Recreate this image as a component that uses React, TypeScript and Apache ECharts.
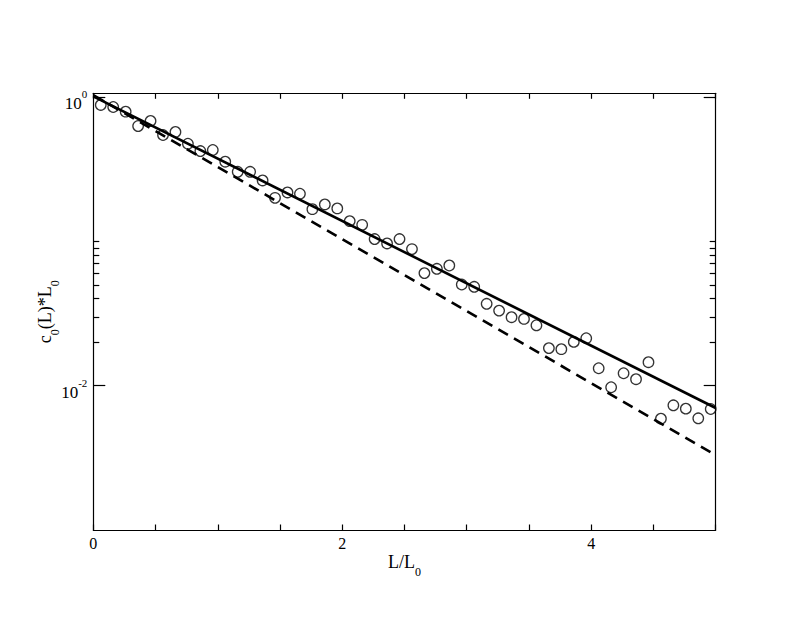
import React, { useEffect, useRef } from "react";
import * as echarts from "echarts";

// ---- data ----
const X_POINTS = [
  0.06, 0.16, 0.26, 0.36, 0.46, 0.56, 0.66, 0.76, 0.86, 0.96,
  1.06, 1.16, 1.26, 1.36, 1.46, 1.56, 1.66, 1.76, 1.86, 1.96,
  2.06, 2.16, 2.26, 2.36, 2.46, 2.56, 2.66, 2.76, 2.86, 2.96,
  3.06, 3.16, 3.26, 3.36, 3.46, 3.56, 3.66, 3.76, 3.86, 3.96,
  4.06, 4.16, 4.26, 4.36, 4.46, 4.56, 4.66, 4.76, 4.86, 4.96,
];
const Y_POINTS = [
  0.88, 0.852, 0.791, 0.629, 0.682, 0.545, 0.572, 0.474, 0.422, 0.429,
  0.356, 0.303, 0.303, 0.264, 0.2, 0.218, 0.2135, 0.167, 0.18, 0.169,
  0.138, 0.13, 0.1036, 0.0966, 0.1036, 0.0883, 0.0602, 0.0645, 0.068, 0.0502,
  0.0484, 0.0369, 0.0331, 0.0298, 0.029, 0.0262, 0.0182, 0.0179, 0.0201, 0.0213,
  0.0132, 0.00975, 0.01219, 0.01108, 0.01454, 0.0059, 0.00731, 0.00693, 0.00594, 0.00689,
];
const SOLID_X = [0, 5];
const SOLID_Y = [1.01, 0.007];
const DASHED_X = [0, 5];
const DASHED_Y = [1.03, 0.0033];

const X_MIN = 0;
const X_MAX = 5;
const X_TICK_STEP = 0.5;
const X_TICK_LABELS = [0, 2, 4];
const Y_MIN = 0.001;
const Y_MAX = 1.06;
const Y_TICK_LABELS = [1, 0.01];
const Y_MINOR_TICKS = [0.02, 0.03, 0.04, 0.05, 0.06, 0.07, 0.08, 0.09, 0.1];

const FONT = "Liberation Serif";

export default function App() {
  const ref = useRef<HTMLDivElement>(null);

  useEffect(() => {
    if (!ref.current) return;
    const chart = echarts.init(ref.current, undefined, { renderer: "svg" });

    const line = { show: true, lineStyle: { color: "#000", width: 1.2 } };
    const tickStyle = { color: "#000", width: 1.2 };

    const subRich = {
      main: { fontFamily: FONT, fontSize: 18, color: "#000", lineHeight: 20, verticalAlign: "top" },
      sub: { fontFamily: FONT, fontSize: 12, color: "#000", lineHeight: 12, padding: [13, 0, 0, 0], verticalAlign: "top" },
    };

    const yLabel = {
      customValues: Y_TICK_LABELS,
      margin: 6,
      formatter: (v: number) => "{b|10}{s|" + Math.round(Math.log10(v)) + "}",
      rich: {
        b: { fontFamily: FONT, fontSize: 17, color: "#000", lineHeight: 17, padding: [7, 0, 0, 0], verticalAlign: "top" },
        s: { fontFamily: FONT, fontSize: 11, color: "#000", lineHeight: 11, verticalAlign: "top" },
      },
    };

    const yBase = {
      type: "log",
      logBase: 10,
      min: Y_MIN,
      max: Y_MAX,
      splitLine: { show: false },
      minorTick: { show: false },
    };

    const xBase = {
      type: "value",
      min: X_MIN,
      max: X_MAX,
      interval: X_TICK_STEP,
      splitLine: { show: false },
      axisLine: line,
      axisTick: { show: true, inside: true, length: 5.5, lineStyle: tickStyle },
    };

    chart.setOption({
      animation: false,
      backgroundColor: "#fff",
      grid: { left: 93.3, right: 90.3, top: 93.3, bottom: 93, containLabel: false },
      xAxis: [
        {
          ...xBase,
          position: "bottom",
          axisLabel: {
            customValues: X_TICK_LABELS,
            formatter: (v: number) => String(v),
            fontFamily: FONT,
            fontSize: 16,
            color: "#000",
            margin: 5,
          },
          name: "{main|L/L}{sub|0}",
          nameLocation: "middle",
          nameGap: 23,
          nameMoveOverlap: false,
          nameTextStyle: { color: "#000", fontFamily: FONT, rich: subRich },
        },
        { ...xBase, position: "top", axisLabel: { show: false } },
      ],
      yAxis: [
        {
          ...yBase,
          position: "left",
          axisLine: line,
          axisTick: { show: true, inside: true, length: 12, customValues: Y_TICK_LABELS, lineStyle: tickStyle },
          axisLabel: yLabel,
          name: "{main|c}{sub|0}{main|(L)*L}{sub|0}",
          nameLocation: "middle",
          nameGap: 37,
          nameMoveOverlap: false,
          nameTextStyle: { color: "#000", fontFamily: FONT, rich: subRich },
        },
        {
          ...yBase,
          position: "left",
          axisLine: { show: false },
          axisTick: { show: true, inside: true, length: 6, customValues: Y_MINOR_TICKS, lineStyle: tickStyle },
          axisLabel: { show: false },
        },
        {
          ...yBase,
          position: "right",
          axisLine: line,
          axisTick: { show: true, inside: true, length: 12, customValues: Y_TICK_LABELS, lineStyle: tickStyle },
          axisLabel: { show: false },
        },
        {
          ...yBase,
          position: "right",
          axisLine: { show: false },
          axisTick: { show: true, inside: true, length: 6, customValues: Y_MINOR_TICKS, lineStyle: tickStyle },
          axisLabel: { show: false },
        },
      ],
      series: [
        {
          type: "line",
          xAxisIndex: 0,
          yAxisIndex: 0,
          data: SOLID_X.map((x, i) => [x, SOLID_Y[i]]),
          showSymbol: false,
          symbol: "none",
          lineStyle: { color: "#000", width: 2.6, type: "solid" },
          z: 3,
        },
        {
          type: "line",
          xAxisIndex: 0,
          yAxisIndex: 0,
          data: DASHED_X.map((x, i) => [x, DASHED_Y[i]]),
          showSymbol: false,
          symbol: "none",
          lineStyle: { color: "#000", width: 2.6, type: [11, 7] },
          z: 3,
        },
        {
          type: "scatter",
          xAxisIndex: 0,
          yAxisIndex: 0,
          data: X_POINTS.map((x, i) => [x, Y_POINTS[i]]),
          symbol: "circle",
          symbolSize: 10.5,
          itemStyle: { color: "rgba(0,0,0,0)", borderColor: "#000", borderWidth: 1.3 },
          z: 4,
        },
      ],
    });

    return () => chart.dispose();
  }, []);

  return (
    <div
      ref={ref}
      style={{ position: "fixed", left: 0, top: 0, width: 806, height: 623, background: "#fff" }}
    />
  );
}
